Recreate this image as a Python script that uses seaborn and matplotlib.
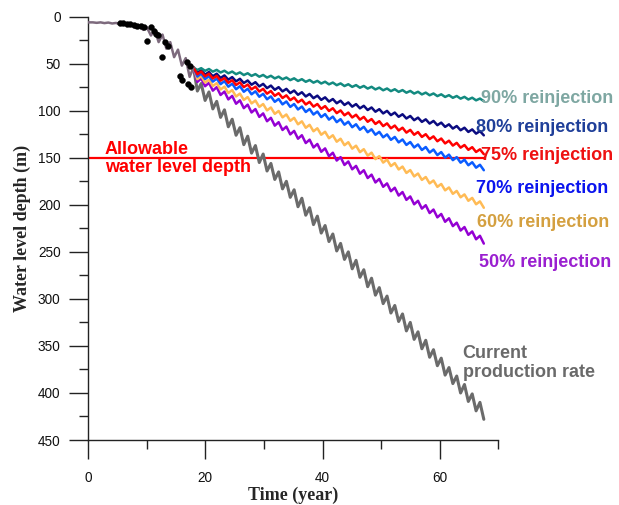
import numpy as np
import pandas as pd
import matplotlib
matplotlib.use("Agg")
import matplotlib.pyplot as plt
import seaborn as sns
from matplotlib.ticker import MultipleLocator

# ---------------------------------------------------------------------------
# Data
# ---------------------------------------------------------------------------
# Calibrated (historical) simulation
hist_years = [0, 0.84, 1.5, 2.16, 2.82, 3.48, 4.14, 4.8, 5.46, 6.12, 6.78,
              7.44, 8.1, 8.76, 9.42, 10.08, 10.74, 11.4, 12.06, 12.72, 13.38,
              14.04, 14.7, 15.36, 16.02, 16.68, 17.34, 18.0]
hist_depth = [6, 6, 6.5, 6, 6.8, 6.2, 7.2, 6.6, 8, 7.2, 9.5,
              8.2, 12, 9.5, 14, 11.5, 20, 14, 27, 19, 34,
              27, 43, 35, 52, 44, 64, 54]

# Observed water levels
obs_years = [5.5, 6.0, 6.6, 7.2, 7.8, 8.4, 9.0, 9.5, 10.1, 10.8, 11.2, 11.6,
             12.0, 12.6, 13.1, 13.6, 15.7, 16.0, 16.9, 17.0, 17.4, 17.6]
obs_depth = [7, 7, 7.5, 8, 8.5, 9.5, 10, 11, 26, 11, 15, 18,
             19, 43, 27, 31, 63, 67, 48, 71, 52, 75]

# Projections: each cycle has a recovered (shallow) level followed by a
# pumping (deep) level half a cycle later
cycle = 1.32
n_cycles = 38
proj_low_years = 18 + cycle * np.arange(n_cycles)
proj_high_years = proj_low_years + cycle / 2

teal_low = [54.0, 54.7, 55.6, 56.5, 57.4, 58.3, 59.2, 60.1, 61.0, 61.9,
            62.8, 63.7, 64.6, 65.5, 66.4, 67.3, 68.2, 69.1, 70.0, 70.9,
            71.8, 72.7, 73.6, 74.5, 75.4, 76.3, 77.1, 78.0, 78.9, 79.8,
            80.7, 81.6, 82.5, 83.4, 84.3, 85.2, 86.1, 87.0]
teal_high = [56.6, 57.5, 58.4, 59.3, 60.2, 61.1, 62.0, 62.9, 63.8, 64.7,
             65.6, 66.5, 67.4, 68.3, 69.2, 70.1, 71.0, 71.9, 72.8, 73.7,
             74.6, 75.5, 76.4, 77.3, 78.2, 79.1, 79.9, 80.8, 81.7, 82.6,
             83.5, 84.4, 85.3, 86.2, 87.1, 88.0, 88.9, 89.8]

navy_low = [54.0, 57.0, 58.8, 60.6, 62.4, 64.2, 66.0, 67.8, 69.6, 71.4,
            73.2, 74.9, 76.7, 78.5, 80.3, 82.1, 83.9, 85.7, 87.5, 89.3,
            91.1, 92.9, 94.7, 96.5, 98.3, 100.1, 101.9, 103.7, 105.5, 107.3,
            109.1, 110.8, 112.6, 114.4, 116.2, 118.0, 119.8, 121.6]
navy_high = [59.7, 61.5, 63.3, 65.1, 66.9, 68.7, 70.5, 72.3, 74.1, 75.9,
             77.7, 79.4, 81.2, 83.0, 84.8, 86.6, 88.4, 90.2, 92.0, 93.8,
             95.6, 97.4, 99.2, 101.0, 102.8, 104.6, 106.4, 108.2, 110.0, 111.8,
             113.6, 115.3, 117.1, 118.9, 120.7, 122.5, 124.3, 126.1]

red_low = [54.0, 58.3, 60.6, 62.9, 65.2, 67.5, 69.8, 72.1, 74.4, 76.7,
           79.0, 81.3, 83.6, 85.9, 88.2, 90.5, 92.8, 95.0, 97.3, 99.6,
           101.9, 104.2, 106.5, 108.8, 111.1, 113.4, 115.7, 118.0, 120.3, 122.6,
           124.9, 127.2, 129.5, 131.8, 134.1, 136.4, 138.7, 141.0]
red_high = [61.2, 63.4, 65.7, 68.0, 70.3, 72.6, 74.9, 77.2, 79.5, 81.8,
            84.1, 86.4, 88.7, 91.0, 93.3, 95.6, 97.9, 100.2, 102.5, 104.8,
            107.1, 109.4, 111.7, 114.0, 116.3, 118.6, 120.9, 123.2, 125.5, 127.8,
            130.1, 132.4, 134.7, 137.0, 139.2, 141.5, 143.8, 146.1]

blue_low = [54.0, 60.4, 63.1, 65.8, 68.5, 71.2, 73.9, 76.6, 79.3, 82.0,
            84.7, 87.4, 90.1, 92.8, 95.5, 98.1, 100.8, 103.5, 106.2, 108.9,
            111.6, 114.3, 117.0, 119.7, 122.4, 125.1, 127.8, 130.5, 133.2, 135.8,
            138.5, 141.2, 143.9, 146.6, 149.3, 152.0, 154.7, 157.4]
blue_high = [63.6, 66.3, 69.0, 71.7, 74.4, 77.1, 79.8, 82.5, 85.1, 87.8,
             90.5, 93.2, 95.9, 98.6, 101.3, 104.0, 106.7, 109.4, 112.1, 114.8,
             117.5, 120.2, 122.8, 125.5, 128.2, 130.9, 133.6, 136.3, 139.0, 141.7,
             144.4, 147.1, 149.8, 152.5, 155.2, 157.9, 160.5, 163.2]

orange_low = [54.0, 63.2, 66.9, 70.6, 74.3, 78.0, 81.7, 85.4, 89.1, 92.8,
              96.5, 100.2, 103.9, 107.5, 111.2, 114.9, 118.6, 122.3, 126.0, 129.7,
              133.4, 137.1, 140.8, 144.5, 148.2, 151.9, 155.6, 159.3, 163.0, 166.7,
              170.4, 174.1, 177.8, 181.5, 185.2, 188.9, 192.6, 196.3]
orange_high = [66.4, 70.0, 73.7, 77.4, 81.1, 84.8, 88.5, 92.2, 95.9, 99.6,
               103.3, 107.0, 110.7, 114.4, 118.1, 121.8, 125.5, 129.2, 132.9, 136.6,
               140.3, 144.0, 147.7, 151.4, 155.1, 158.8, 162.4, 166.1, 169.8, 173.5,
               177.2, 180.9, 184.6, 188.3, 192.0, 195.7, 199.4, 203.1]

purple_low = [54.0, 65.6, 70.3, 74.9, 79.6, 84.2, 88.9, 93.5, 98.2, 102.8,
              107.5, 112.1, 116.8, 121.4, 126.0, 130.7, 135.3, 140.0, 144.6, 149.3,
              153.9, 158.6, 163.2, 167.9, 172.5, 177.2, 181.8, 186.4, 191.1, 195.7,
              200.4, 205.0, 209.7, 214.3, 219.0, 223.6, 228.3, 232.9]
purple_high = [69.3, 73.9, 78.6, 83.2, 87.9, 92.5, 97.2, 101.8, 106.5, 111.1,
               115.8, 120.4, 125.1, 129.7, 134.3, 139.0, 143.6, 148.3, 152.9, 157.6,
               162.2, 166.9, 171.5, 176.2, 180.8, 185.5, 190.1, 194.7, 199.4, 204.0,
               208.7, 213.3, 218.0, 222.6, 227.3, 231.9, 236.6, 241.2]

gray_low = [54, 71, 80, 90, 99, 109, 118, 127, 137, 146,
            156, 165, 175, 184, 193, 203, 212, 222, 231, 241,
            250, 259, 269, 278, 288, 297, 307, 316, 325, 335,
            344, 354, 363, 373, 382, 391, 401, 410]
gray_high = [79, 89, 98, 107, 117, 126, 136, 145, 155, 164,
             173, 183, 192, 202, 211, 221, 230, 239, 249, 258,
             268, 277, 287, 296, 305, 315, 324, 334, 343, 353,
             362, 371, 381, 390, 400, 409, 419, 428]

allowable_depth = 150

scenarios = {
    "Current production rate": (gray_low, gray_high),
    "50% reinjection": (purple_low, purple_high),
    "60% reinjection": (orange_low, orange_high),
    "70% reinjection": (blue_low, blue_high),
    "80% reinjection": (navy_low, navy_high),
    "90% reinjection": (teal_low, teal_high),
    "75% reinjection": (red_low, red_high),
}
line_colors = {
    "Current production rate": "#6b6b6b",
    "50% reinjection": "#9400d3",
    "60% reinjection": "#ffbb55",
    "70% reinjection": "#0a5cff",
    "80% reinjection": "#0b0b80",
    "90% reinjection": "#138a80",
    "75% reinjection": "#ff0000",
}
line_widths = {name: 1.8 for name in scenarios}
line_widths["Current production rate"] = 2.2

# Interleave recovered / pumping levels into one saw-tooth series per scenario
rows = []
for name, (low, high) in scenarios.items():
    for t_lo, d_lo, t_hi, d_hi in zip(proj_low_years, low, proj_high_years, high):
        rows.append((name, t_lo, d_lo))
        rows.append((name, t_hi, d_hi))
proj = pd.DataFrame(rows, columns=["scenario", "year", "depth"])
hist = pd.DataFrame({"year": hist_years, "depth": hist_depth})
obs = pd.DataFrame({"year": obs_years, "depth": obs_depth})

# ---------------------------------------------------------------------------
# Figure
# ---------------------------------------------------------------------------
sns.set_style("ticks")
plt.rcParams["font.family"] = ["Liberation Sans", "DejaVu Sans"]

fig = plt.figure(figsize=(6.19, 5.05), dpi=100)
ax = fig.add_axes([0.1420, 0.1287, 0.6633, 0.8382])

ax.plot([0, 67.5], [allowable_depth, allowable_depth], color="#ff0000",
        lw=1.6, zorder=1)

for name in scenarios:
    sns.lineplot(data=proj[proj["scenario"] == name], x="year", y="depth",
                 color=line_colors[name], estimator=None, sort=False,
                 lw=line_widths[name], ax=ax, zorder=2)
sns.lineplot(data=hist, x="year", y="depth", color="#7d6a7d",
             estimator=None, sort=False, lw=1.8, ax=ax, zorder=3)
sns.scatterplot(data=obs, x="year", y="depth", color="black", s=18,
                edgecolor="black", linewidth=0.3, ax=ax, zorder=4)

ax.set_xlim(0, 70)
ax.set_ylim(450, 0)
ax.xaxis.set_major_locator(MultipleLocator(20))
ax.xaxis.set_minor_locator(MultipleLocator(10))
ax.yaxis.set_major_locator(MultipleLocator(50))
ax.yaxis.set_minor_locator(MultipleLocator(25))
ax.tick_params(which="major", direction="out", length=13.7, width=1,
               color="#222222", labelsize=9.8, labelcolor="#111111")
ax.tick_params(which="minor", direction="out", length=6.7, width=1,
               color="#222222")
ax.tick_params(axis="x", which="major", pad=8.5)
ax.tick_params(axis="y", which="major", pad=6)

for side in ("top", "right"):
    ax.spines[side].set_visible(False)
for side in ("left", "bottom"):
    ax.spines[side].set_linewidth(1)
    ax.spines[side].set_color("#222222")

serif = ["Liberation Serif", "DejaVu Serif"]
ax.set_xlabel("Time (year)", family=serif, fontweight="bold", fontsize=13,
              labelpad=1)
ax.set_ylabel("Water level depth (m)", family=serif, fontweight="bold",
              fontsize=13, labelpad=5)

label_specs = [
    ("90% reinjection", 67.0, 86.8, "#7ea7a2"),
    ("80% reinjection", 66.2, 117.7, "#1f3f99"),
    ("75% reinjection", 67.0, 147.9, "#ee1111"),
    ("70% reinjection", 66.2, 182.6, "#0a14ee"),
    ("60% reinjection", 66.3, 219.2, "#d4a040"),
    ("50% reinjection", 66.7, 261.7, "#9a1fd0"),
]
for text, x, y, c in label_specs:
    ax.text(x, y, text, color=c, fontsize=13, fontweight="bold",
            ha="left", va="center", clip_on=False)

ax.text(63.9, 367.9, "Current\nproduction rate", color="#6a6a6a",
        fontsize=13, fontweight="bold", ha="left", va="center",
        linespacing=1.13, clip_on=False)
ax.text(2.9, 150.6, "Allowable\nwater level depth", color="#ff0000",
        fontsize=13, fontweight="bold", ha="left", va="center",
        linespacing=1.13, clip_on=False)

fig.savefig("out.png", dpi=100)
